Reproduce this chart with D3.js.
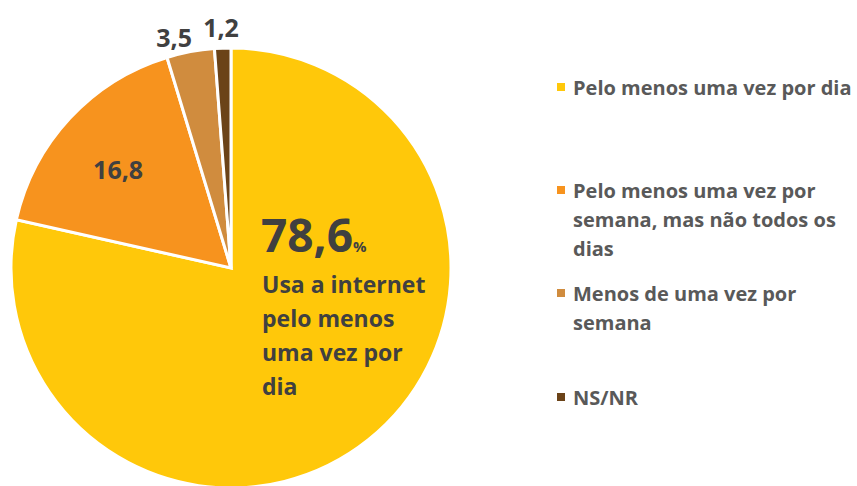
<!DOCTYPE html>
<html>
<head>
<meta charset="utf-8">
<script src="https://cdn.jsdelivr.net/npm/d3@7/dist/d3.min.js"></script>
<style>
  body { margin: 0; background: #fff; }
  svg { display: block; font-family: "Open Sans", sans-serif; font-weight: 700; }
</style>
</head>
<body>
<svg id="chart" width="857" height="486"></svg>
<script>
// Data
const categories = ["Pelo menos uma vez por dia", "Pelo menos uma vez por semana, mas não todos os dias", "Menos de uma vez por semana", "NS/NR"];
const values = [78.6, 16.8, 3.5, 1.2];
const valueLabels = ["78,6", "16,8", "3,5", "1,2"];
const legendLines = [
  ["Pelo menos uma vez por dia"],
  ["Pelo menos uma vez por", "semana, mas não todos os", "dias"],
  ["Menos de uma vez por", "semana"],
  ["NS/NR"]
];
const bigText = ["Usa a internet", "pelo menos", "uma vez por", "dia"];
const colors = ["#FFC80A", "#F7931E", "#D08C3E", "#6B4318"];

const svg = d3.select("#chart");
const cx = 231, cy = 268, r = 220;
const textColor = "#404040";

const color = d3.scaleOrdinal().domain(categories).range(colors);

const pie = d3.pie().sort(null).value(d => d.v);
const arcs = pie(categories.map((c, i) => ({ c: c, v: values[i], label: valueLabels[i] })));
const arc = d3.arc().innerRadius(0).outerRadius(r);

const g = svg.append("g").attr("transform", "translate(" + cx + "," + cy + ")");

g.selectAll("path")
  .data(arcs)
  .enter()
  .append("path")
  .attr("d", arc)
  .attr("fill", d => color(d.data.c))
  .attr("stroke", "#fff")
  .attr("stroke-width", 3)
  .attr("stroke-linejoin", "miter");

// value labels: inner for orange, outer for the two small ones
const inner = d3.arc().innerRadius(150).outerRadius(150);
const outer = d3.arc().innerRadius(238).outerRadius(238);

arcs.forEach((d, i) => {
  if (i === 0) return;
  const p = i === 1 ? inner.centroid(d) : outer.centroid(d);
  const dx = i === 2 ? -13 : (i === 3 ? -1 : -3);
  const dy = i === 2 ? 3 : (i === 3 ? -3 : 3);
  g.append("text")
    .attr("x", p[0] + dx)
    .attr("y", p[1] + dy)
    .attr("text-anchor", "middle")
    .attr("dominant-baseline", "central")
    .attr("fill", textColor)
    .attr("font-size", 25)
    .text(d.data.label);
});

// big annotation on yellow slice
const big = svg.append("text")
  .attr("x", 261)
  .attr("y", 252)
  .attr("fill", textColor);
big.append("tspan").attr("font-size", 46).text(valueLabels[0]);
big.append("tspan").attr("font-size", 15).text("%");

svg.selectAll("text.sub")
  .data(bigText)
  .enter()
  .append("text")
  .attr("class", "sub")
  .attr("x", 262)
  .attr("y", (d, i) => 293 + i * 34)
  .attr("fill", textColor)
  .attr("font-size", 23)
  .text(d => d);

// Legend
const rowY = [87, 190, 293, 397];
const lineH = 29;
const legend = svg.append("g");
legendLines.forEach((lines, i) => {
  legend.append("rect")
    .attr("x", 557)
    .attr("y", rowY[i] - 4)
    .attr("width", 8)
    .attr("height", 8)
    .attr("fill", colors[i]);
  lines.forEach((t, j) => {
    legend.append("text")
      .attr("x", 573)
      .attr("y", rowY[i] + j * lineH)
      .attr("dominant-baseline", "central")
      .attr("fill", "#595959")
      .attr("font-size", 20)
      .text(t);
  });
});
</script>
</body>
</html>
